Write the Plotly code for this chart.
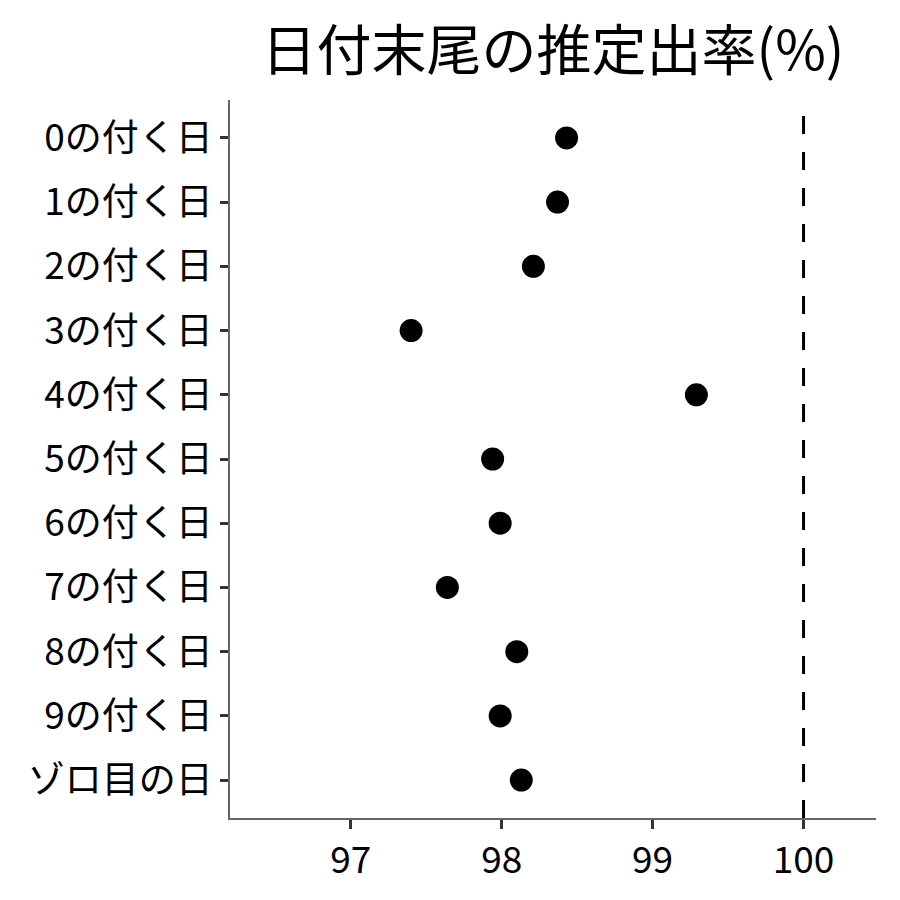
import plotly.graph_objects as go

categories = ["0の付く日", "1の付く日", "2の付く日", "3の付く日", "4の付く日",
              "5の付く日", "6の付く日", "7の付く日", "8の付く日", "9の付く日", "ゾロ目の日"]
rates = [98.43, 98.37, 98.21, 97.40, 99.29, 97.94, 97.99, 97.64, 98.10, 97.99, 98.13]
ref_value = 100
x_ticks = [97, 98, 99, 100]
title_text = "日付末尾の推定出率(%)"

font = "Noto Sans CJK JP"

fig = go.Figure()
fig.add_trace(go.Scatter(
    x=rates, y=categories, mode="markers",
    marker=dict(color="black", size=23),
    showlegend=False,
))
fig.add_shape(type="line", x0=ref_value, x1=ref_value, y0=0, y1=1, yref="paper",
              line=dict(color="black", width=3, dash="18px,18px"))

fig.update_layout(
    width=900, height=900,
    margin=dict(l=222, r=32, t=92, b=90),
    plot_bgcolor="white", paper_bgcolor="white",
    font=dict(family=font, color="black"),
    title=dict(text=title_text, x=0.5, xref="paper", xanchor="center",
               y=0.953, yref="container", yanchor="middle",
               font=dict(size=55, family=font, color="black")),
)
fig.update_xaxes(
    range=[96.2, 100.48], tickvals=x_ticks, ticktext=[str(v) for v in x_ticks],
    showgrid=False, zeroline=False, showline=True, linecolor="#666666", linewidth=1.5,
    ticks="outside", ticklen=9, tickwidth=3, tickcolor="#333333",
    tickfont=dict(size=37, family=font, color="black"),
)
fig.update_yaxes(
    categoryorder="array", categoryarray=categories,
    range=[10.59, -0.59], showgrid=False, zeroline=False,
    showline=True, linecolor="#666666", linewidth=1.5,
    ticks="outside", ticklen=8, tickwidth=3, tickcolor="#333333",
    tickfont=dict(size=37, family=font, color="black"),
)
fig.write_html("out.html")
